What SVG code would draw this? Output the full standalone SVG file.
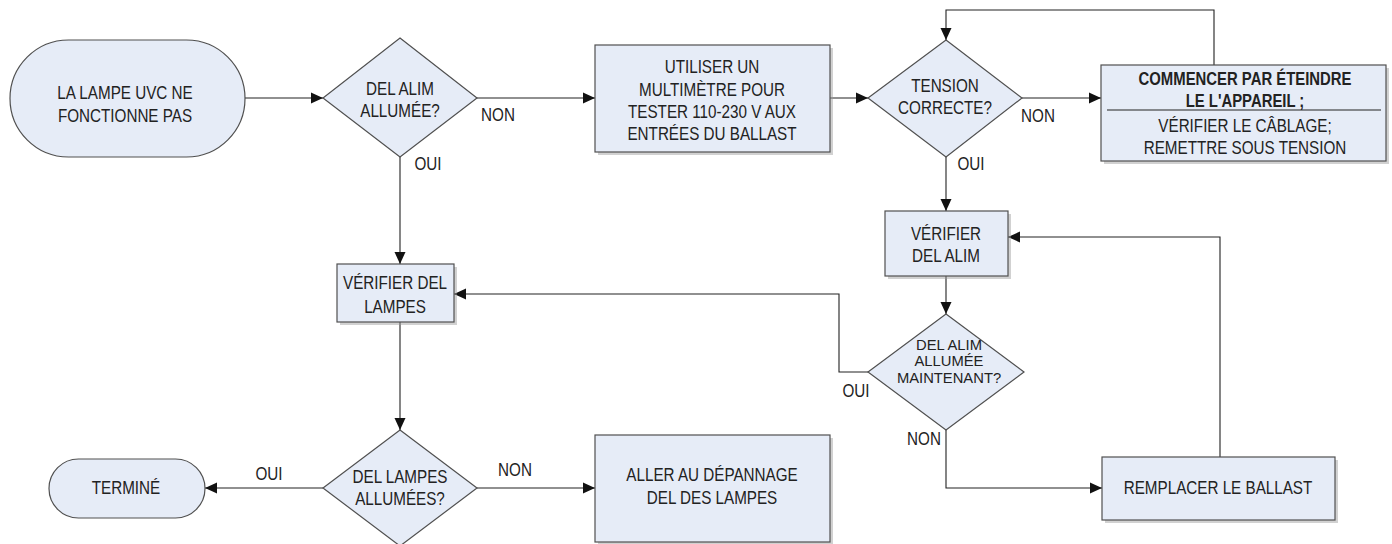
<svg xmlns="http://www.w3.org/2000/svg" width="1392" height="544" viewBox="0 0 1392 544">
<defs>
<style>
.n{fill:#E6ECF7;stroke:#505050;stroke-width:1.2}
.sh{fill:#9a9a9a;opacity:0.45}
.t{font-family:"Liberation Sans",Arial,sans-serif;font-size:17.5px;fill:#222;text-anchor:middle}
.s{font-size:14.5px}
.b{font-weight:bold}
.c{fill:none;stroke:#222;stroke-width:1.1}
.ca{fill:none;stroke:#222;stroke-width:1.1;marker-end:url(#ah)}
</style>
<marker id="ah" markerUnits="userSpaceOnUse" markerWidth="12" markerHeight="12" viewBox="0 0 12 12" refX="12" refY="6" orient="auto">
<path d="M0,0.5 L12,6 L0,11.5 z" fill="#111"/>
</marker>
</defs>
<rect width="1392" height="544" fill="#fff"/>

<g id="connectors">
<line class="ca" x1="245" y1="98" x2="323" y2="98"/>
<line class="ca" x1="477" y1="98" x2="595" y2="98"/>
<line class="ca" x1="830" y1="98" x2="868" y2="98"/>
<line class="ca" x1="1022" y1="98" x2="1101" y2="98"/>
<polyline class="ca" points="1214,65 1214,10 946,10 946,40"/>
<line class="ca" x1="946" y1="157" x2="946" y2="211"/>
<line class="ca" x1="946" y1="276" x2="946" y2="314"/>
<polyline class="ca" points="868,372 839,372 839,294 454,294"/>
<polyline class="ca" points="946,430 946,488 1102,488"/>
<polyline class="ca" points="1220,457 1220,237 1008,237"/>
<line class="ca" x1="400" y1="157" x2="400" y2="264"/>
<line class="ca" x1="400" y1="322" x2="400" y2="430"/>
<line class="ca" x1="323" y1="488" x2="205" y2="488"/>
<line class="ca" x1="477" y1="488" x2="595" y2="488"/>
<g class="t">
<text transform="translate(498 0) scale(0.87 1)"><tspan x="0" y="121">NON</tspan></text>
<text transform="translate(428 0) scale(0.87 1)"><tspan x="0" y="170">OUI</tspan></text>
<text transform="translate(1038 0) scale(0.87 1)"><tspan x="0" y="122">NON</tspan></text>
<text transform="translate(971 0) scale(0.87 1)"><tspan x="0" y="170">OUI</tspan></text>
<text transform="translate(856 0) scale(0.87 1)"><tspan x="0" y="397">OUI</tspan></text>
<text transform="translate(924 0) scale(0.87 1)"><tspan x="0" y="445">NON</tspan></text>
<text transform="translate(269 0) scale(0.87 1)"><tspan x="0" y="480">OUI</tspan></text>
<text transform="translate(515 0) scale(0.87 1)"><tspan x="0" y="476">NON</tspan></text>
</g>
</g>

<g id="start">
<rect class="n" x="10" y="40" width="235" height="117" rx="58.5"/>
<text class="t" transform="translate(125 0) scale(0.87 1)"><tspan x="0" y="99">LA LAMPE UVC NE</tspan><tspan x="0" y="122">FONCTIONNE PAS</tspan></text>
</g>

<g id="d1">
<polygon class="n" points="400,38 477,98 400,157 323,98"/>
<text class="t" transform="translate(400 0) scale(0.87 1)"><tspan x="0" y="95">DEL ALIM</tspan><tspan x="0" y="117">ALLUMÉE?</tspan></text>
</g>

<g id="multimetre">
<rect class="sh" x="598" y="48" width="235" height="107"/>
<rect class="n" x="595" y="45" width="235" height="107"/>
<text class="t" transform="translate(712 0) scale(0.87 1)"><tspan x="0" y="73">UTILISER UN</tspan><tspan x="0" y="96">MULTIMÈTRE POUR</tspan><tspan x="0" y="118">TESTER 110-230 V AUX</tspan><tspan x="0" y="140">ENTRÉES DU BALLAST</tspan></text>
</g>

<g id="d2">
<polygon class="n" points="946,40 1022,98 946,157 868,98"/>
<text class="t" transform="translate(945 0) scale(0.87 1)"><tspan x="0" y="92">TENSION</tspan><tspan x="0" y="114">CORRECTE?</tspan></text>
</g>

<g id="commencer">
<rect class="sh" x="1104" y="68" width="285" height="96"/>
<rect class="n" x="1101" y="65" width="285" height="96"/>
<line x1="1107" y1="110" x2="1381" y2="110" stroke="#222" stroke-width="1.2"/>
<text class="t b" transform="translate(1245 0) scale(0.85 1)"><tspan x="0" y="85">COMMENCER PAR ÉTEINDRE</tspan><tspan x="0" y="107">LE L'APPAREIL ;</tspan></text>
<text class="t" transform="translate(1245 0) scale(0.87 1)"><tspan x="0" y="132">VÉRIFIER LE CÂBLAGE;</tspan><tspan x="0" y="154">REMETTRE SOUS TENSION</tspan></text>
</g>

<g id="verifier-alim">
<rect class="sh" x="888" y="214" width="123" height="65"/>
<rect class="n" x="885" y="211" width="123" height="65"/>
<text class="t" transform="translate(946 0) scale(0.87 1)"><tspan x="0" y="240">VÉRIFIER</tspan><tspan x="0" y="262">DEL ALIM</tspan></text>
</g>

<g id="d3">
<polygon class="n" points="946,314 1024,372 946,430 868,372"/>
<text class="t s" transform="translate(949 0) scale(1.02 1)"><tspan x="0" y="350">DEL ALIM</tspan><tspan x="0" y="366.5">ALLUMÉE</tspan><tspan x="0" y="383">MAINTENANT?</tspan></text>
</g>

<g id="verifier-lampes">
<rect class="sh" x="340" y="267" width="117" height="58"/>
<rect class="n" x="337" y="264" width="117" height="58"/>
<text class="t" transform="translate(395 0) scale(0.87 1)"><tspan x="0" y="289">VÉRIFIER DEL</tspan><tspan x="0" y="313">LAMPES</tspan></text>
</g>

<g id="remplacer">
<rect class="sh" x="1105" y="460" width="233" height="63"/>
<rect class="n" x="1102" y="457" width="233" height="63"/>
<text class="t" transform="translate(1218 0) scale(0.87 1)"><tspan x="0" y="494">REMPLACER LE BALLAST</tspan></text>
</g>

<g id="d4">
<polygon class="n" points="400,430 477,488 400,546 323,488"/>
<text class="t" transform="translate(400 0) scale(0.87 1)"><tspan x="0" y="483">DEL LAMPES</tspan><tspan x="0" y="505">ALLUMÉES?</tspan></text>
</g>

<g id="termine">
<rect class="n" x="49" y="459" width="156" height="59" rx="29.5"/>
<text class="t" transform="translate(126 0) scale(0.87 1)"><tspan x="0" y="494">TERMINÉ</tspan></text>
</g>

<g id="aller">
<rect class="sh" x="598" y="438" width="235" height="107"/>
<rect class="n" x="595" y="435" width="235" height="107"/>
<text class="t" transform="translate(712 0) scale(0.87 1)"><tspan x="0" y="481">ALLER AU DÉPANNAGE</tspan><tspan x="0" y="504">DEL DES LAMPES</tspan></text>
</g>
</svg>
